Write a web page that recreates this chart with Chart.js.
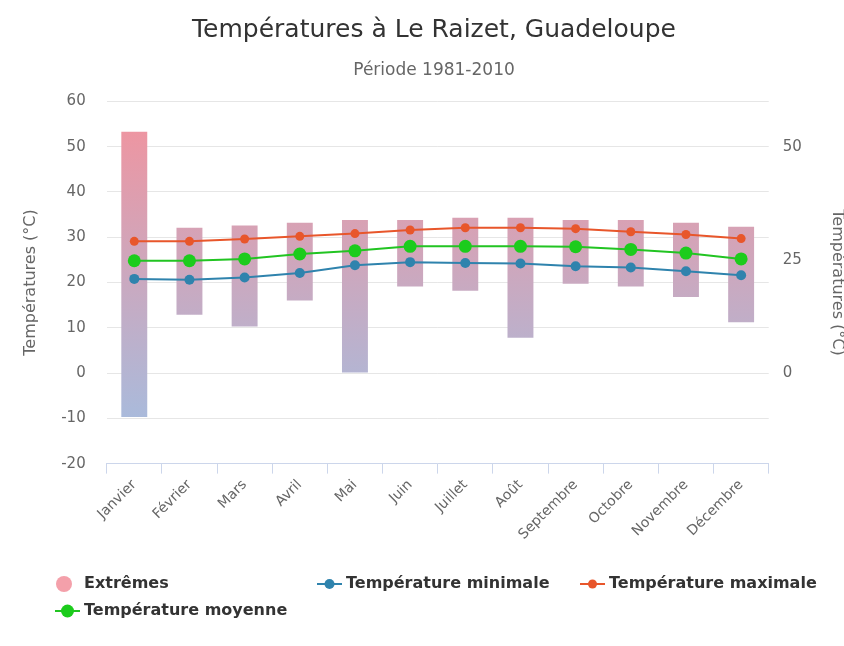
<!DOCTYPE html>
<html lang="fr">
<head>
<meta charset="utf-8">
<title>Températures à Le Raizet</title>
<script src="https://cdn.jsdelivr.net/npm/chart.js@4/dist/chart.umd.min.js"></script>
<style>
  html, body { margin: 0; padding: 0; background: #fff; overflow: hidden; }
  #wrap { width: 844px; height: 646px; }
</style>
</head>
<body>
<div id="wrap"><canvas id="graphique"></canvas></div>
<script>
// Normales 1981-2010, Le Raizet
const mois = ['Janvier', 'Février', 'Mars', 'Avril', 'Mai', 'Juin', 'Juillet', 'Août', 'Septembre', 'Octobre', 'Novembre', 'Décembre'];
const extremesBas = [-9.7, 12.9, 10.3, 16.0, 0.1, 19.1, 18.2, 7.8, 19.7, 19.1, 16.8, 11.2];
const extremesHaut = [53.3, 32.1, 32.6, 33.2, 33.8, 33.8, 34.3, 34.3, 33.8, 33.8, 33.2, 32.3];
const tempMin = [20.8, 20.6, 21.1, 22.1, 23.8, 24.5, 24.3, 24.2, 23.6, 23.3, 22.5, 21.6];
const tempMax = [29.1, 29.1, 29.6, 30.2, 30.8, 31.6, 32.1, 32.1, 31.9, 31.2, 30.6, 29.7];
const tempMoy = [24.8, 24.8, 25.2, 26.3, 27.0, 28.0, 28.0, 28.0, 27.9, 27.3, 26.5, 25.2];
const ticksDroite = [0, 25, 50];

Chart.defaults.font.family = '"DejaVu Sans", sans-serif';
Chart.defaults.color = '#666';

// dégradé rouge -> bleu sur toute la hauteur du graphe
function degradeExtremes(context) {
    const area = context.chart.chartArea;
    if (!area) return '#caabc1';
    const g = context.chart.ctx.createLinearGradient(0, area.top, 0, area.bottom);
    g.addColorStop(0, '#f4929c');
    g.addColorStop(1, '#9fc0e4');
    return g;
}

// légende en colonnes fixes, dessinée sous le graphe
const legendeColonnes = {
    id: 'legendeColonnes',
    afterDraw(chart, args, opts) {
        const ctx = chart.ctx;
        ctx.save();
        ctx.font = opts.font;
        ctx.textBaseline = 'middle';
        chart.data.datasets.forEach((ds, i) => {
            const x = opts.colonnes[i % opts.colonnes.length];
            const y = opts.lignes[Math.floor(i / opts.colonnes.length)];
            if (ds.type === 'bar') {
                ctx.fillStyle = opts.symboleBarres;
                ctx.beginPath(); ctx.arc(x + 9, y, 8, 0, Math.PI * 2); ctx.fill();
            } else {
                ctx.strokeStyle = ds.borderColor; ctx.lineWidth = 2;
                ctx.beginPath(); ctx.moveTo(x, y); ctx.lineTo(x + 25, y); ctx.stroke();
                ctx.fillStyle = ds.pointBackgroundColor;
                ctx.beginPath(); ctx.arc(x + 12.5, y, ds.pointRadius, 0, Math.PI * 2); ctx.fill();
            }
            ctx.fillStyle = opts.couleur;
            ctx.fillText(ds.label, x + 29, y);
        });
        ctx.restore();
    }
};

new Chart(document.getElementById('graphique'), {
    data: {
        labels: mois,
        datasets: [
            {
                type: 'bar', label: 'Extrêmes', order: 1,
                data: mois.map((m, i) => [extremesBas[i], extremesHaut[i]]),
                backgroundColor: degradeExtremes,
                categoryPercentage: 1, barPercentage: 0.47
            },
            {
                type: 'line', label: 'Température minimale', order: 0,
                data: tempMin, borderColor: '#2f83ad', borderWidth: 2,
                pointBackgroundColor: '#2f83ad', pointBorderWidth: 0, pointRadius: 5
            },
            {
                type: 'line', label: 'Température maximale', order: 0,
                data: tempMax, borderColor: '#e8562b', borderWidth: 2,
                pointBackgroundColor: '#e8562b', pointBorderWidth: 0, pointRadius: 4.5
            },
            {
                type: 'line', label: 'Température moyenne', order: 0,
                data: tempMoy, borderColor: '#22c422', borderWidth: 2,
                pointBackgroundColor: '#1ccc1c', pointBorderWidth: 0, pointRadius: 6.5
            }
        ]
    },
    options: {
        responsive: true,
        maintainAspectRatio: false,
        animation: false,
        layout: { padding: { left: 17, right: -7, top: 8, bottom: 100 } },
        plugins: {
            legend: { display: false },
            tooltip: { enabled: false },
            title: {
                display: true, text: 'Températures à Le Raizet, Guadeloupe',
                color: '#333', font: { size: 25, weight: 'normal' }, padding: { top: 7, bottom: 15 }
            },
            subtitle: {
                display: true, text: 'Période 1981-2010',
                color: '#666', font: { size: 17 }, padding: { bottom: 21 }
            },
            legendeColonnes: {
                colonnes: [55, 317, 580], lignes: [584, 611],
                font: 'bold 16px "DejaVu Sans", sans-serif', couleur: '#333',
                symboleBarres: '#f4a0aa'
            }
        },
        scales: {
            x: {
                offset: true,
                grid: { offset: true, drawOnChartArea: false, drawTicks: true, tickLength: 10, tickColor: '#ccd6eb' },
                border: { display: true, color: '#ccd6eb' },
                ticks: { minRotation: 45, maxRotation: 45, font: { size: 14 }, color: '#666' }
            },
            y: {
                position: 'left', min: -20, max: 60,
                ticks: { stepSize: 10, padding: 21, font: { size: 15 } },
                grid: { color: '#e6e6e6', drawTicks: false },
                border: { display: false },
                title: { display: true, text: 'Températures (°C)', font: { size: 16 }, color: '#666', padding: { top: 4, bottom: 0 } }
            },
            y2: {
                position: 'right', min: -20, max: 60,
                afterBuildTicks: scale => { scale.ticks = ticksDroite.map(v => ({ value: v })); },
                ticks: { padding: 14, font: { size: 15 } },
                grid: { display: false, drawTicks: false },
                border: { display: false },
                title: { display: true, text: 'Températures (°C)', font: { size: 16 }, color: '#666', padding: { top: 4, bottom: 12 } }
            }
        }
    },
    plugins: [legendeColonnes]
});
</script>
</body>
</html>
